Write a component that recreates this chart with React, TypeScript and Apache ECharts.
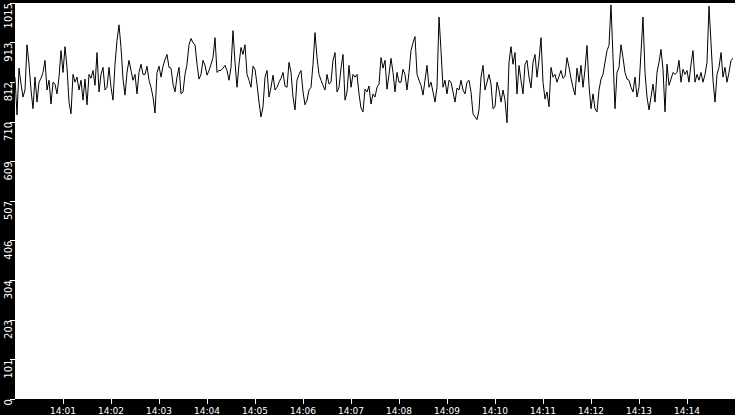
import React, { useEffect, useRef } from 'react';
import * as echarts from 'echarts';

// one reading every 2.5 s, 14:00:00 -> 14:14:57.5
const SAMPLE_SECONDS = 2.5;
const Y_MAX = 1015;
const Y_STEP = 101.5;

const minuteLabels = ['14:00', '14:01', '14:02', '14:03', '14:04', '14:05', '14:06', '14:07',
  '14:08', '14:09', '14:10', '14:11', '14:12', '14:13', '14:14', '14:15'];

const part1 = [825, 728, 848, 807, 774, 792, 908, 858, 792, 744, 825, 761, 812, 822, 837, 868, 792, 817, 756, 812,
  807, 782, 825, 893, 837, 903, 850, 761, 731, 832, 812, 825, 792, 817, 766, 820, 754, 832, 822, 842];
const part2 = [804, 888, 787, 832, 850, 792, 799, 850, 799, 766, 858, 919, 959, 901, 820, 779, 837, 868, 842, 817,
  832, 782, 837, 858, 832, 832, 853, 817, 799, 774, 733, 837, 853, 825, 853, 870, 883, 850, 848, 807];
const part3 = [787, 825, 850, 782, 787, 832, 858, 908, 924, 913, 908, 858, 820, 832, 868, 855, 830, 842, 858, 875,
  926, 837, 842, 842, 848, 855, 842, 817, 850, 944, 863, 799, 858, 901, 883, 908, 832, 817, 799, 853];
const part4 = [845, 807, 761, 723, 749, 825, 842, 774, 799, 830, 792, 799, 812, 822, 837, 802, 799, 863, 837, 774,
  741, 817, 832, 842, 787, 754, 766, 792, 799, 858, 939, 875, 832, 817, 804, 792, 832, 807, 812, 868];
const part5 = [888, 787, 799, 848, 883, 766, 787, 855, 799, 832, 825, 832, 782, 746, 736, 794, 787, 802, 756, 782,
  774, 799, 807, 875, 848, 868, 794, 832, 873, 837, 787, 837, 812, 812, 845, 832, 792, 837, 893, 913];
const part6 = [929, 832, 817, 804, 779, 817, 855, 799, 812, 787, 761, 799, 979, 893, 799, 817, 782, 817, 812, 787,
  761, 797, 792, 817, 792, 782, 812, 817, 787, 731, 723, 716, 741, 825, 855, 792, 812, 832, 807, 744];
const part7 = [749, 812, 792, 761, 792, 766, 708, 863, 903, 858, 888, 782, 855, 817, 782, 858, 868, 825, 797, 863,
  883, 825, 868, 926, 812, 769, 787, 749, 850, 825, 832, 812, 827, 842, 822, 827, 875, 850, 822, 799];
const part8 = [779, 848, 812, 855, 799, 845, 906, 804, 744, 782, 744, 736, 792, 820, 832, 863, 893, 906, 1010, 875,
  744, 837, 850, 908, 875, 837, 820, 817, 799, 787, 825, 774, 799, 888, 979, 837, 774, 741, 774, 807];
const part9 = [761, 837, 863, 896, 845, 736, 858, 804, 820, 837, 832, 837, 868, 812, 845, 832, 842, 812, 858, 893,
  812, 832, 817, 837, 812, 832, 863, 1007, 913, 817, 761, 832, 850, 888, 825, 850, 812, 837, 868, 873];

const readings = [...part1, ...part2, ...part3, ...part4, ...part5, ...part6, ...part7, ...part8, ...part9];

export default function App() {
  const chartRef = useRef<HTMLDivElement>(null);

  useEffect(() => {
    if (!chartRef.current) return;
    const chart = echarts.init(chartRef.current, null, { renderer: 'svg' });
    const points = readings.map((v, i) => [i * SAMPLE_SECONDS, v]);

    chart.setOption({
      animation: false,
      backgroundColor: '#000',
      textStyle: { fontFamily: 'DejaVu Sans' },
      grid: { left: 15, right: 0, top: 0, bottom: 15, show: true, backgroundColor: '#fff', borderWidth: 0 },
      xAxis: {
        type: 'value',
        min: 0,
        max: 900,
        interval: 60,
        axisLine: { show: false },
        axisTick: { show: true, length: 5, lineStyle: { color: '#fff', width: 1 } },
        splitLine: { show: false },
        axisLabel: {
          color: '#fff',
          fontSize: 9,
          margin: 7,
          showMinLabel: false,
          showMaxLabel: false,
          formatter: (v: number) => minuteLabels[Math.round(v / 60)] ?? '',
        },
      },
      yAxis: {
        type: 'value',
        min: 0,
        max: Y_MAX,
        interval: Y_STEP,
        axisLine: { show: false },
        axisTick: { show: true, length: 5, lineStyle: { color: '#fff', width: 1 } },
        splitLine: { show: false },
        axisLabel: {
          color: '#fff',
          fontSize: 10,
          rotate: 90,
          align: 'right',
          verticalAlign: 'bottom',
          margin: 2,
          showMinLabel: true,
          showMaxLabel: true,
          hideOverlap: false,
          formatter: (v: number) => String(Math.floor(v + 1e-6)),
        },
      },
      series: [
        {
          type: 'line',
          data: points,
          showSymbol: false,
          lineStyle: { color: '#000', width: 1 },
          itemStyle: { color: '#000' },
        },
      ],
    });

    return () => chart.dispose();
  }, []);

  return <div ref={chartRef} style={{ position: 'fixed', left: 0, top: 0, width: 735, height: 415 }} />;
}
